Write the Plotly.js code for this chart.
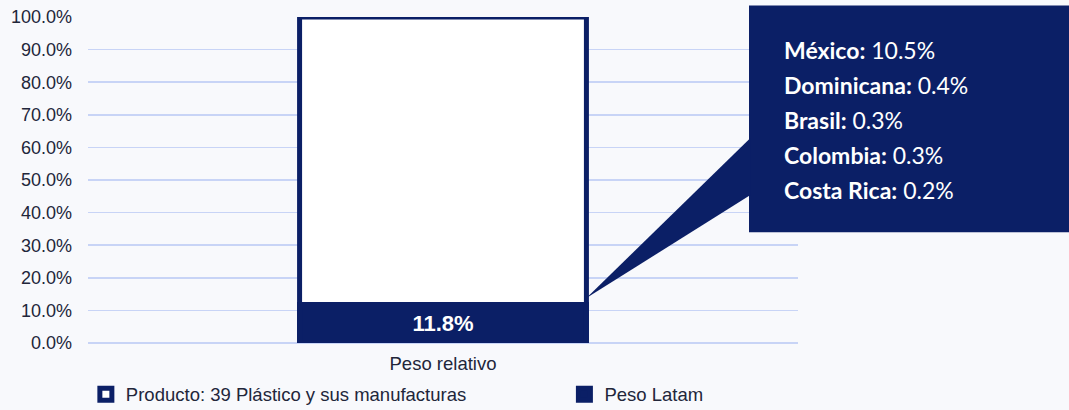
<!DOCTYPE html>
<html>
<head>
<meta charset="utf-8">
<script src="https://cdn.plot.ly/plotly-3.0.1.min.js"></script>
<style>html,body{margin:0;padding:0;background:#f8f9fc;}#chart{width:1069px;height:410px;}</style>
</head>
<body>
<div id="chart"></div>
<script>
const categories = ['Peso relativo'];
const productoName = 'Producto: 39 Plástico y sus manufacturas';
const productoValues = [1.0];
const latamName = 'Peso Latam';
const latamValues = [0.118];
const latamLabels = ['11.8%'];
const countries = ['México', 'Dominicana', 'Brasil', 'Colombia', 'Costa Rica'];
const countryShares = ['10.5%', '0.4%', '0.3%', '0.3%', '0.2%'];
const yTickVals = [0, 0.1, 0.2, 0.3, 0.4, 0.5, 0.6, 0.7, 0.8, 0.9, 1.0];

const NAVY = '#0b1f66';
const TEXT = '#22263a';
const BAR_W = 0.404;

const traces = [
  {
    type: 'bar', name: productoName, x: categories, y: productoValues, legend: 'legend',
    width: BAR_W, marker: {color: '#ffffff', line: {color: NAVY, width: 5}},
    hoverinfo: 'skip'
  },
  {
    type: 'bar', name: latamName, x: categories, y: latamValues, legend: 'legend2',
    width: BAR_W, marker: {color: NAVY, line: {color: NAVY, width: 5}},
    text: latamLabels, textposition: 'inside', insidetextanchor: 'middle',
    textfont: {family: 'Arial, Liberation Sans, sans-serif', size: 22, color: '#ffffff', weight: 'bold'},
    texttemplate: '<b>%{text}</b>', hoverinfo: 'skip'
  }
];

// callout geometry (paper coordinates)
const boxX0 = 0.931, boxX1 = 1.385, boxY0 = 0.34, boxY1 = 1.035;
const tipX = 0.5 + BAR_W / 2;
const tipY = latamValues[0] + 0.02;

const shapes = [
  {type: 'rect', xref: 'paper', yref: 'paper', x0: boxX0, x1: boxX1, y0: boxY0, y1: boxY1,
   fillcolor: NAVY, line: {width: 0}, layer: 'above'},
  {type: 'path', xref: 'paper', yref: 'paper',
   path: `M ${boxX0 + 0.002} 0.629 L ${boxX0 + 0.002} 0.454 L ${tipX} ${tipY} Z`,
   fillcolor: NAVY, line: {width: 0}, layer: 'above'}
];

const annotations = countries.map((c, i) => ({
  xref: 'paper', yref: 'paper', x: 0.977, y: 0.899 - i * 0.1077,
  xanchor: 'left', yanchor: 'middle', showarrow: false,
  text: `<b>${c}:</b> ${countryShares[i]}`,
  font: {family: 'Lato, Open Sans, sans-serif', size: 23, color: '#ffffff'}
}));

const legendCommon = {orientation: 'h', xanchor: 'left', y: -0.1, yanchor: 'top',
  font: {family: 'Arial, Liberation Sans, sans-serif', size: 18.5, color: TEXT}, bgcolor: 'rgba(0,0,0,0)'};

const layout = {
  width: 1069, height: 410,
  margin: {l: 88, r: 271, t: 17, b: 67, autoexpand: false},
  paper_bgcolor: '#f8f9fc', plot_bgcolor: '#f8f9fc',
  barmode: 'overlay',
  font: {family: 'Arial, Liberation Sans, sans-serif', size: 18, color: TEXT},
  xaxis: {type: 'category', range: [-0.5, 0.5], showgrid: false, zeroline: false, automargin: false,
          showline: false, ticks: '', ticklabelstandoff: 7, tickfont: {size: 18.5, color: TEXT}},
  yaxis: {range: [0, 1], tickvals: yTickVals, tickformat: '.1%', showgrid: true, automargin: false,
          gridcolor: '#c8d4f6', gridwidth: 1.5, zeroline: true, zerolinecolor: '#c8d4f6', zerolinewidth: 1.5,
          ticks: '', ticklabelstandoff: 15, tickfont: {size: 18, color: TEXT}},
  showlegend: true,
  legend: Object.assign({x: -0.003}, legendCommon),
  legend2: Object.assign({x: 0.671}, legendCommon),
  shapes: shapes,
  annotations: annotations
};

Plotly.newPlot('chart', traces, layout, {displayModeBar: false, staticPlot: true});
</script>
</body>
</html>
